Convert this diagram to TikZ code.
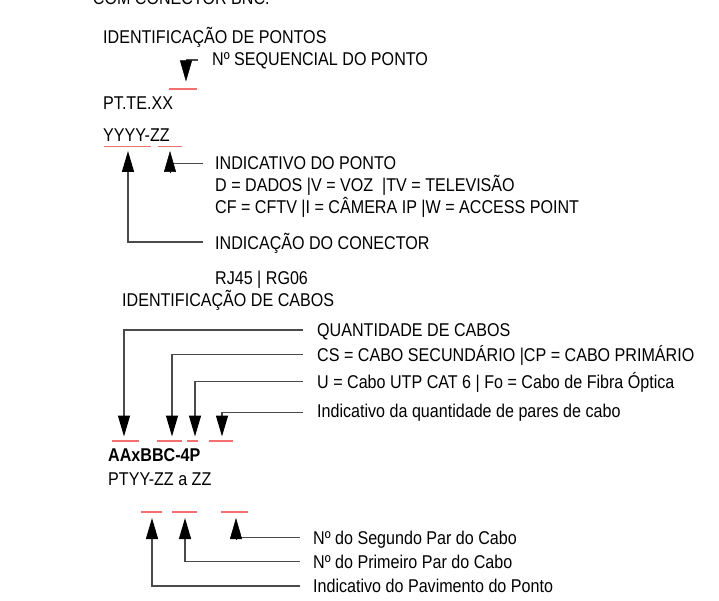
\documentclass[tikz,border=0pt]{standalone}
\usepackage{fontspec}
\setmainfont{Liberation Sans}[FakeStretch=0.87]
\usetikzlibrary{arrows.meta}
\definecolor{leadc}{HTML}{4A4A4A}
\definecolor{ulc}{HTML}{F47070}
\begin{document}
\begin{tikzpicture}[x=1pt,y=-1pt,
  txt/.style={anchor=base west,inner sep=0pt,font=\fontsize{18.5}{20}\selectfont},
  boldtxt/.style={txt,font=\fontsize{18.5}{20}\selectfont\bfseries},
  leadline/.style={draw=leadc,line width=1.4pt},
  arr/.style={leadline,-{Triangle[length=21pt,width=12pt,color=black,fill=black]}},
  headonly/.style={draw=black,line width=0.5pt,-{Triangle[length=21pt,width=12pt,color=black,fill=black]}},
  uline/.style={draw=ulc,line width=1.8pt}]
\useasboundingbox (0,0) rectangle (719,601);
% texts
\node[txt] (top) at (92.7,5) {COM CONECTOR BNC.};
\node[txt] (idp) at (103,44) {IDENTIFICAÇÃO DE PONTOS};
\node[txt] (seq) at (212,65.5) {Nº SEQUENCIAL DO PONTO};
\node[txt] (pt) at (103,110) {PT.TE.XX};
\node[txt] (yz) at (103,142) {YYYY-ZZ};
\node[txt] (ind) at (215,170) {INDICATIVO DO PONTO};
\node[txt] (dd) at (215,192) {D = DADOS |V = VOZ\ \ |TV = TELEVISÃO};
\node[txt] (cf) at (215,214) {CF = CFTV |I = CÂMERA IP |W = ACCESS POINT};
\node[txt] (con) at (215,249.5) {INDICAÇÃO DO CONECTOR};
\node[txt] (rj) at (215,284.5) {RJ45 | RG06};
\node[txt] (idc) at (122,306.5) {IDENTIFICAÇÃO DE CABOS};
\node[txt] (qc) at (317,336) {QUANTIDADE DE CABOS};
\node[txt] (cs) at (317,361) {CS = CABO SECUNDÁRIO |CP = CABO PRIMÁRIO};
\node[txt] (u) at (317,388.5) {U = Cabo UTP CAT 6 | Fo = Cabo de Fibra Óptica};
\node[txt] (ip) at (317,417) {Indicativo da quantidade de pares de cabo};
\node[boldtxt] (aa) at (108,461.5) {AAxBBC-4P};
\node[txt] (ptyy) at (108,485.5) {PTYY-ZZ a ZZ};
\node[txt] (seg) at (313,544.5) {Nº do Segundo Par do Cabo};
\node[txt] (pri) at (313,568.5) {Nº do Primeiro Par do Cabo};
\node[txt] (pav) at (313,592.5) {Indicativo do Pavimento do Ponto};
% red underlines
\draw[uline] (169.3,89.3) -- (197.3,89.3);
\draw[uline] (104,146.5) -- (151,146.5);
\draw[uline] (158.3,146.5) -- (181.7,146.5);
\draw[uline] (111.7,440.7) -- (139.3,440.7);
\draw[uline] (156.7,440.7) -- (181.7,440.7);
\draw[uline] (186.7,440.7) -- (198.3,440.7);
\draw[uline] (209.3,440.7) -- (233.3,440.7);
\draw[uline] (141,512.3) -- (162.3,512.3);
\draw[uline] (171.7,512.3) -- (196.7,512.3);
\draw[uline] (221,512.3) -- (248.3,512.3);
% coordinates
\coordinate (sA) at (197.5,60);
\coordinate (sB) at (186,60);
\coordinate (tSeq) at (186,81.5);
\coordinate (sInd) at (203,163.3);
\coordinate (bInd) at (170,172);
\coordinate (tInd) at (170,151);
\coordinate (sCon) at (203,242);
\coordinate (tCon) at (128,151);
\coordinate (sQ) at (303,330);
\coordinate (tQ) at (124,436.5);
\coordinate (sCS) at (303,354.5);
\coordinate (tCS) at (172,436.5);
\coordinate (sU) at (303,381.7);
\coordinate (tU) at (195,436.5);
\coordinate (sIP) at (303,412.7);
\coordinate (tIP) at (222,436.5);
\coordinate (sSeg) at (300,537.7);
\coordinate (mSeg) at (236,537.7);
\coordinate (bSeg) at (236,539);
\coordinate (tSeg) at (236,518);
\coordinate (sPri) at (300,561.7);
\coordinate (tPri) at (185,518);
\coordinate (sPav) at (300,586);
\coordinate (tPav) at (152,518);
% connectors
\draw[leadline] (sA) -- (sB);
\draw[headonly] (sB) -- (tSeq);
\draw[leadline] (sInd) -- (tInd |- sInd);
\draw[headonly] (bInd) -- (tInd);
\draw[arr] (sCon) -| (tCon);
\draw[arr] (sQ) -| (tQ);
\draw[arr] (sCS) -| (tCS);
\draw[arr] (sU) -| (tU);
\draw[arr] (sIP) -| (tIP);
\draw[leadline] (sSeg) -- (mSeg);
\draw[headonly] (bSeg) -- (tSeg);
\draw[arr] (sPri) -| (tPri);
\draw[arr] (sPav) -| (tPav);
\end{tikzpicture}
\end{document}
